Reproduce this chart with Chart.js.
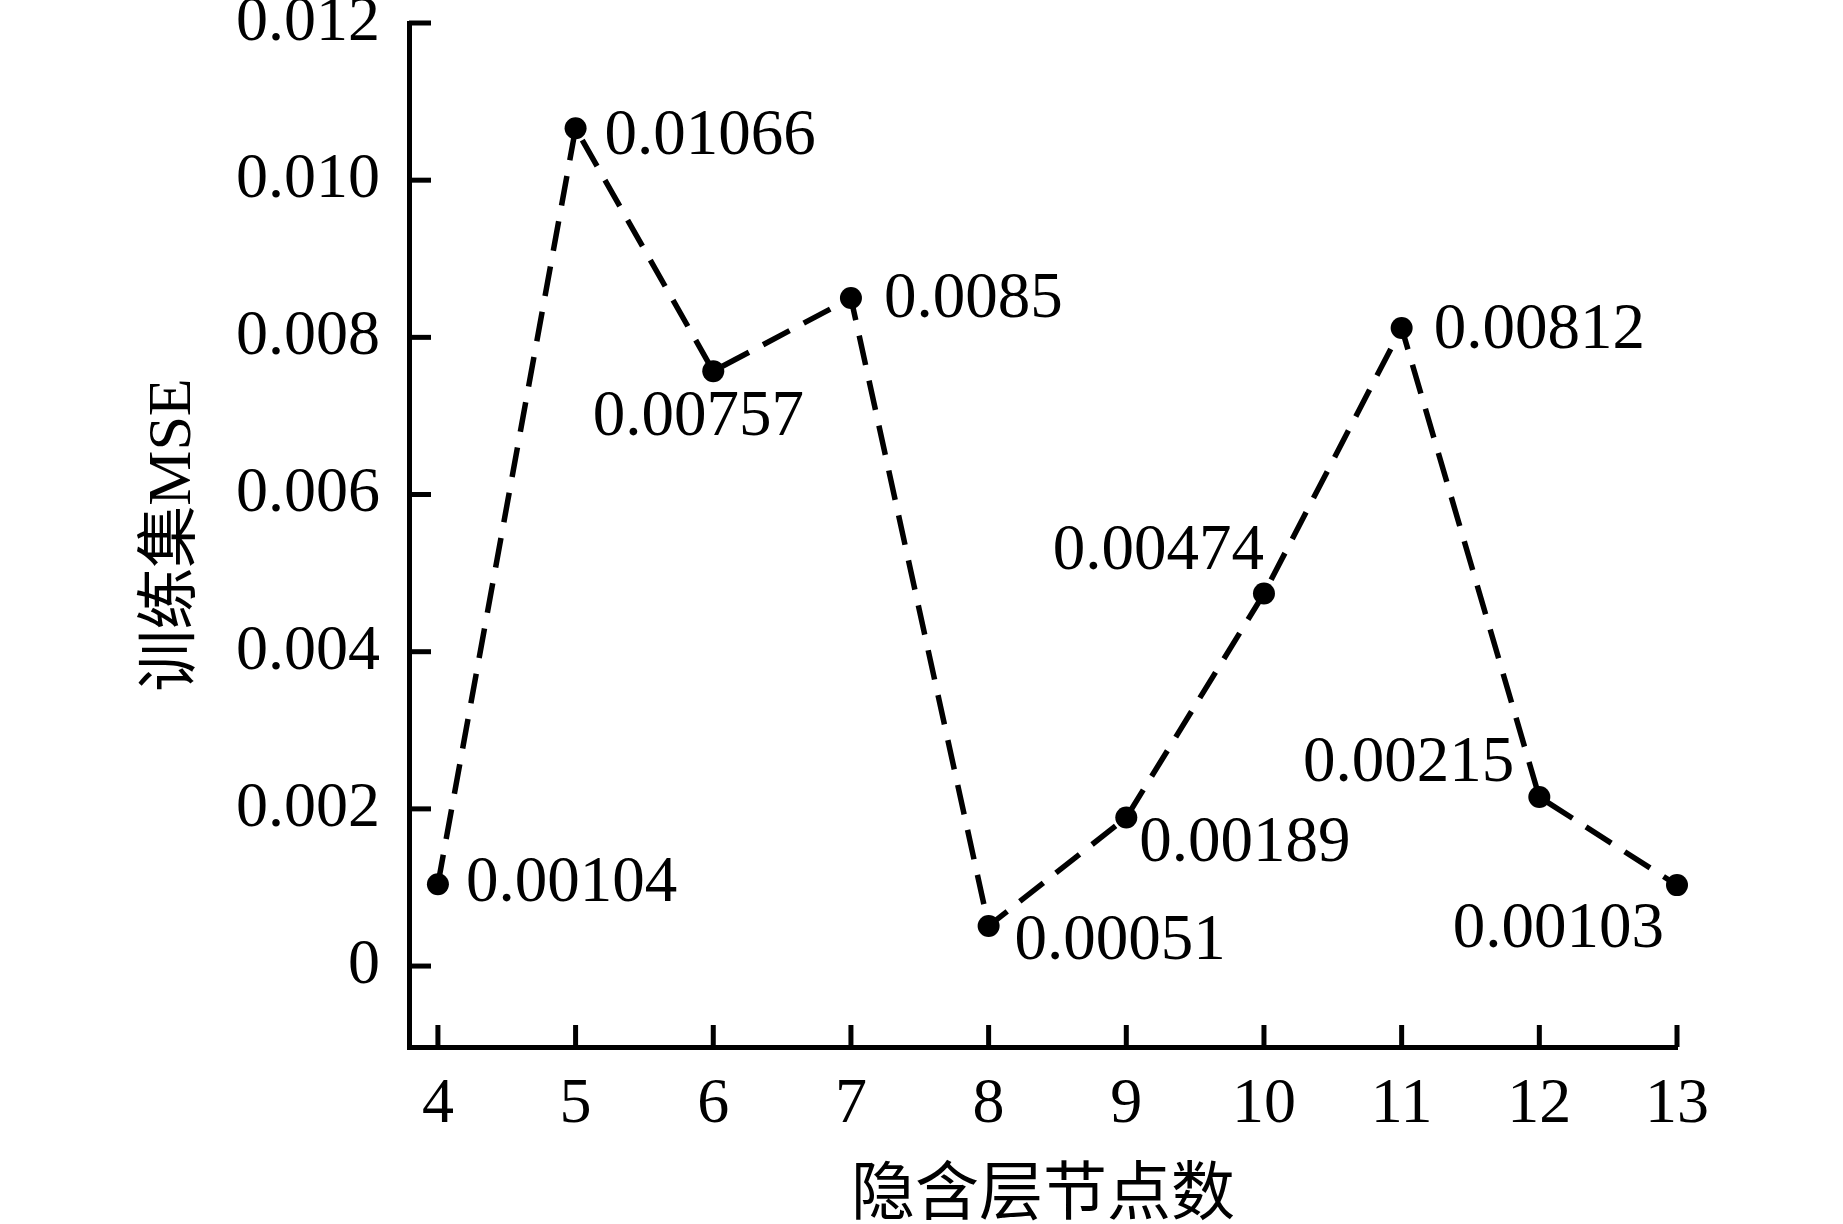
<!DOCTYPE html>
<html>
<head>
<meta charset="utf-8">
<script src="https://cdn.jsdelivr.net/npm/chart.js@4/dist/chart.umd.min.js"></script>
<style>
  html, body { margin: 0; padding: 0; background: #fff; }
  #wrap { width: 1843px; height: 1224px; }
</style>
</head>
<body>
<div id="wrap"><canvas id="c" width="1843" height="1224"></canvas></div>
<script>
// ---- data ----
const hiddenNodes = [4, 5, 6, 7, 8, 9, 10, 11, 12, 13];
const trainMSE = [0.00104, 0.01066, 0.00757, 0.0085, 0.00051, 0.00189, 0.00474, 0.00812, 0.00215, 0.00103];
const pointLabels = ['0.00104', '0.01066', '0.00757', '0.0085', '0.00051', '0.00189', '0.00474', '0.00812', '0.00215', '0.00103'];
const yTickValues = [0, 0.002, 0.004, 0.006, 0.008, 0.010, 0.012];
const yTickLabels = ['0', '0.002', '0.004', '0.006', '0.008', '0.010', '0.012'];
const xTickValues = [4, 5, 6, 7, 8, 9, 10, 11, 12, 13];
const xTitle = '隐含层节点数';
const yTitle = '训练集MSE';

// ---- label placement (style only) ----
const labelPlacement = [
  {align: 'left',   dx: 28,  dy: 0},
  {align: 'left',   dx: 29,  dy: 9},
  {align: 'center', dx: -15, dy: 47},
  {align: 'left',   dx: 33,  dy: 2},
  {align: 'left',   dx: 26,  dy: 16},
  {align: 'left',   dx: 13,  dy: 26},
  {align: 'right',  dx: 0,   dy: -42},
  {align: 'left',   dx: 32,  dy: 3},
  {align: 'right',  dx: -25, dy: -33},
  {align: 'right',  dx: -13, dy: 45}
];

const FONT = '"Liberation Serif", "Times New Roman", "Noto Sans CJK SC", serif';
const AXIS_W = 5;
const TICK_LEN = 22;

const innerTicks = {
  id: 'innerTicks',
  afterDraw(chart) {
    const ctx = chart.ctx;
    const xs = chart.scales.x, ys = chart.scales.y;
    const area = chart.chartArea;
    ctx.save();
    ctx.strokeStyle = '#000';
    ctx.lineWidth = AXIS_W;
    ctx.lineCap = 'butt';
    ys.ticks.forEach(t => {
      const y = ys.getPixelForValue(t.value);
      ctx.beginPath();
      ctx.moveTo(area.left, y);
      ctx.lineTo(area.left + TICK_LEN, y);
      ctx.stroke();
    });
    xs.ticks.forEach(t => {
      const x = xs.getPixelForValue(t.value);
      ctx.beginPath();
      ctx.moveTo(x, area.bottom);
      ctx.lineTo(x, area.bottom - TICK_LEN);
      ctx.stroke();
    });
    ctx.restore();
  }
};

const valueLabels = {
  id: 'valueLabels',
  afterDatasetsDraw(chart) {
    const ctx = chart.ctx;
    const meta = chart.getDatasetMeta(0);
    ctx.save();
    ctx.fillStyle = '#000';
    ctx.font = '65px ' + FONT;
    ctx.textBaseline = 'middle';
    meta.data.forEach((pt, i) => {
      const p = labelPlacement[i];
      ctx.textAlign = p.align;
      ctx.fillText(pointLabels[i], pt.x + p.dx, pt.y + p.dy);
    });
    ctx.restore();
  }
};

new Chart(document.getElementById('c'), {
  type: 'line',
  data: {
    datasets: [{
      data: hiddenNodes.map((x, i) => ({x: x, y: trainMSE[i]})),
      borderColor: '#000',
      backgroundColor: '#000',
      borderWidth: 5.5,
      borderDash: [30, 16],
      pointRadius: 11,
      pointBackgroundColor: '#000',
      pointBorderColor: '#000',
      pointBorderWidth: 0,
      tension: 0,
      fill: false,
      clip: false
    }]
  },
  options: {
    responsive: false,
    animation: false,
    devicePixelRatio: 1,
    layout: { padding: { left: 0, right: 166, top: 23, bottom: 0 } },
    plugins: {
      legend: { display: false },
      tooltip: { enabled: false },
      title: { display: false }
    },
    scales: {
      x: {
        type: 'linear',
        min: 3.79,
        max: 13,
        afterBuildTicks: s => { s.ticks = xTickValues.map(v => ({value: v})); },
        afterFit: s => { s.height = 1224 - 1047; s.paddingLeft = 0; s.paddingRight = 0; },
        grid: { display: false, drawTicks: false },
        border: { display: true, color: '#000', width: AXIS_W },
        ticks: {
          color: '#000',
          font: { family: FONT, size: 64 },
          padding: 20,
          maxRotation: 0,
          autoSkip: false,
          callback: v => String(v)
        },
        title: {
          display: true,
          text: xTitle,
          color: '#000',
          font: { family: FONT, size: 64, lineHeight: 1 },
          padding: { top: 0, bottom: -5 }
        }
      },
      y: {
        type: 'linear',
        min: -0.00103,
        max: 0.012,
        afterBuildTicks: s => { s.ticks = yTickValues.map(v => ({value: v})); },
        afterFit: s => { s.width = 409; s.paddingTop = 0; s.paddingBottom = 0; },
        grid: { display: false, drawTicks: false },
        border: { display: true, color: '#000', width: AXIS_W },
        ticks: {
          color: '#000',
          font: { family: FONT, size: 64 },
          padding: 29,
          autoSkip: false,
          callback: (v, i) => { const k = yTickValues.indexOf(v); return k >= 0 ? yTickLabels[k] : ''; }
        },
        title: {
          display: true,
          text: yTitle,
          color: '#000',
          font: { family: FONT, size: 62, lineHeight: 1 },
          padding: { top: 143, bottom: 0 }
        }
      }
    }
  },
  plugins: [innerTicks, valueLabels]
});
</script>
</body>
</html>
